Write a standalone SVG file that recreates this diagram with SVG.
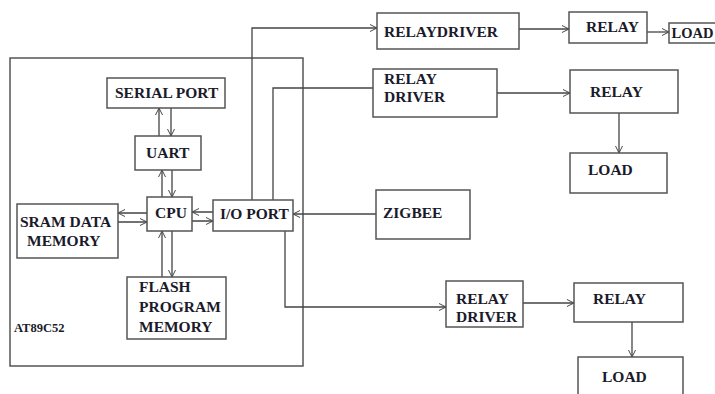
<svg xmlns="http://www.w3.org/2000/svg" width="715" height="394" viewBox="0 0 715 394">
<defs>
<marker id="a" viewBox="0 0 10 10" refX="10" refY="5" markerWidth="7" markerHeight="9" orient="auto-start-reverse" markerUnits="userSpaceOnUse">
<path d="M0,0 L10,5 L0,10" fill="none" stroke="#444" stroke-width="1.4"/>
</marker>
<style>
.b{fill:#fff;stroke:#555;stroke-width:1.5}
text{font-family:'Liberation Serif','Times New Roman',serif;font-weight:bold;font-size:15.5px;fill:#1a1a2a}
.s{font-size:12.5px}
.c{fill:none;stroke:#444;stroke-width:1.3}
.bi{marker-start:url(#a);marker-end:url(#a)}
.e{marker-end:url(#a)}
</style>
</defs>
<rect width="715" height="394" fill="#fff"/>
<g id="at89c52"><rect class="b" x="10" y="58" width="293" height="308"/><text class="s" x="14" y="332">AT89C52</text></g>
<g id="connectors">
<path class="c bi" d="M159,108 V136 M171,108 V136"/>
<path class="c bi" d="M162,170 V197 M172,170 V197"/>
<path class="c bi" d="M118,213 H147 M118,222 H147"/>
<path class="c bi" d="M162,231 V277 M172,231 V277"/>
<path class="c bi" d="M192,212 H213 M192,221 H213"/>
<path class="c e" d="M252,200 V28 H377"/>
<path class="c" d="M273,200 V88 H373"/>
<path class="c e" d="M285,231 V307 H446"/>
<path class="c e" d="M376,214 H293"/>
<path class="c e" d="M519,29 H569"/>
<path class="c e" d="M647,32 H669"/>
<path class="c e" d="M497,93 H570"/>
<path class="c e" d="M619,113 V153"/>
<path class="c e" d="M523,303 H574"/>
<path class="c e" d="M632,322 V357"/>
</g>
<g id="serial"><rect class="b" x="107" y="78" width="118" height="30"/><text x="115" y="98">SERIAL PORT</text></g>
<g id="uart"><rect class="b" x="135" y="136" width="66" height="34"/><text x="146" y="158">UART</text></g>
<g id="cpu"><rect class="b" x="147" y="197" width="45" height="34"/><text x="155" y="218">CPU</text></g>
<g id="ioport"><rect class="b" x="213" y="200" width="80" height="31"/><text x="220" y="219">I/O PORT</text></g>
<g id="sram"><rect class="b" x="17" y="204" width="101" height="54"/><text x="20" y="227">SRAM DATA</text><text x="27" y="246">MEMORY</text></g>
<g id="flash"><rect class="b" x="127" y="277" width="99" height="62"/><text x="139" y="292">FLASH</text><text x="139" y="312">PROGRAM</text><text x="139" y="332">MEMORY</text></g>
<g id="zigbee"><rect class="b" x="376" y="190" width="94" height="49"/><text x="383" y="218">ZIGBEE</text></g>
<g id="rd1"><rect class="b" x="377" y="13" width="142" height="36"/><text x="384" y="37">RELAYDRIVER</text></g>
<g id="relay1"><rect class="b" x="569" y="12" width="78" height="31"/><text x="586" y="32">RELAY</text></g>
<g id="load1"><rect class="b" x="669" y="23" width="60" height="20"/><text x="671.5" y="38" style="font-size:14.5px">LOAD</text></g>
<g id="rd2"><rect class="b" x="373" y="69" width="124" height="48"/><text x="384" y="84">RELAY</text><text x="384" y="102">DRIVER</text></g>
<g id="relay2"><rect class="b" x="570" y="70" width="108" height="43"/><text x="590" y="97">RELAY</text></g>
<g id="load2"><rect class="b" x="570" y="153" width="97" height="40"/><text x="588" y="175">LOAD</text></g>
<g id="rd3"><rect class="b" x="446" y="281" width="77" height="46"/><text x="456" y="304">RELAY</text><text x="456" y="322">DRIVER</text></g>
<g id="relay3"><rect class="b" x="574" y="283" width="109" height="39"/><text x="593" y="304">RELAY</text></g>
<g id="load3"><rect class="b" x="578" y="357" width="105" height="45"/><text x="602" y="382">LOAD</text></g>
</svg>
